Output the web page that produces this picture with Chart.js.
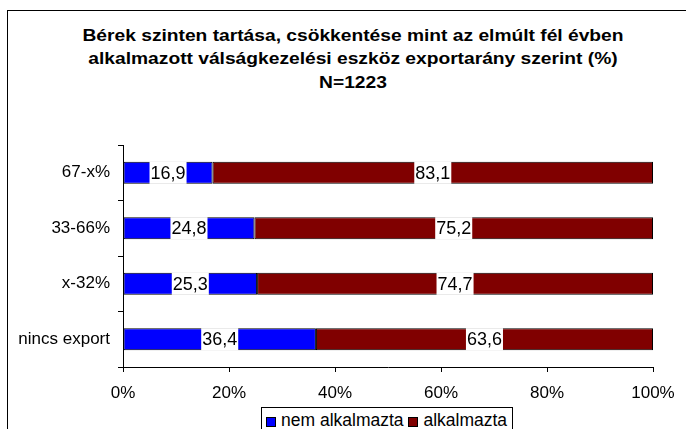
<!DOCTYPE html>
<html>
<head>
<meta charset="utf-8">
<script src="https://cdn.jsdelivr.net/npm/chart.js@4.4.0/dist/chart.umd.min.js"></script>
<style>
    html, body { margin: 0; padding: 0; background: #fff; overflow: hidden; }
    #wrap { position: relative; width: 686px; height: 429px; overflow: hidden; font-family: "Liberation Sans", Arial, sans-serif; color: #000; }
    #keret { position: absolute; left: 7px; top: 10px; width: 700px; height: 440px; border: 1px solid #000; box-sizing: border-box; }
    #grafikon { position: absolute; left: 0; top: 0; }
    #cim { position: absolute; left: 0; top: 23.5px; width: 706px; text-align: center; font-weight: bold; font-size: 16px;
        line-height: 23.5px; transform: scaleX(1.2); transform-origin: 353px 0; white-space: nowrap; }
    #jelmagyarazat { position: absolute; left: 261px; top: 407px; height: 30px; border: 1px solid #000; background: #fff;
        font-size: 17.5px; line-height: 20px; padding: 2px 5px 0 4px; white-space: nowrap; }
    #jelmagyarazat span.doboz { display: inline-block; width: 8px; height: 8px; border: 1px solid #000; vertical-align: -1px; margin-right: 5px; }
</style>
</head>
<body>
<div id="wrap">
    <div id="keret"></div>
    <div id="cim"></div>
    <canvas id="grafikon" width="686" height="429"></canvas>
    <div id="jelmagyarazat"></div>
</div>
<script>
// adatok
var kategoriak = ['67-x%', '33-66%', 'x-32%', 'nincs export'];
var nemAlkalmazta = [16.9, 24.8, 25.3, 36.4];
var alkalmazta = [83.1, 75.2, 74.7, 63.6];
var sorozatNevek = ['nem alkalmazta', 'alkalmazta'];
var szinek = ['#0000ff', '#800000'];
var cimSorok = ['Bérek szinten tartása, csökkentése mint az elmúlt fél évben',
    'alkalmazott válságkezelési eszköz exportarány szerint (%)',
    'N=1223'];

var betu = '"Liberation Sans", Arial, sans-serif';

// címkék fehér háttérrel a szakaszok közepén
var ertekCimkek = {
    id: 'ertekCimkek',
    afterDatasetsDraw: function (chart) {
        var ctx = chart.ctx;
        ctx.save();
        ctx.font = '18px ' + betu;
        ctx.textAlign = 'center';
        ctx.textBaseline = 'middle';
        chart.data.datasets.forEach(function (ds, i) {
            var meta = chart.getDatasetMeta(i);
            meta.data.forEach(function (bar, j) {
                var szoveg = ds.data[j].toFixed(1).replace('.', ',');
                var cx = (bar.x + bar.base) / 2;
                var w = ctx.measureText(szoveg).width + 2;
                ctx.fillStyle = '#ffffff';
                ctx.fillRect(cx - w / 2, bar.y - bar.height / 2, w, bar.height);
                ctx.fillStyle = '#000000';
                ctx.fillText(szoveg, cx, bar.y + 1);
            });
        });
        ctx.restore();
    }
};

document.getElementById('cim').innerHTML = cimSorok.join('<br>');

var ctx = document.getElementById('grafikon').getContext('2d');
new Chart(ctx, {
    type: 'bar',
    data: {
        labels: kategoriak,
        datasets: [{
            label: sorozatNevek[0],
            data: nemAlkalmazta,
            backgroundColor: szinek[0],
            borderColor: '#000000',
            borderWidth: 1,
            borderSkipped: false
        }, {
            label: sorozatNevek[1],
            data: alkalmazta,
            backgroundColor: szinek[1],
            borderColor: '#000000',
            borderWidth: 1,
            borderSkipped: false
        }]
    },
    options: {
        indexAxis: 'y',
        responsive: false,
        animation: false,
        layout: { padding: { left: 0, right: 33, top: 145, bottom: 0 } },
        datasets: { bar: { categoryPercentage: 1, barPercentage: 0.4 } },
        scales: {
            x: {
                stacked: true,
                min: 0,
                max: 100,
                border: { color: '#000000', width: 1 },
                grid: { drawOnChartArea: false, drawTicks: true, tickLength: 5, color: '#000000' },
                ticks: {
                    stepSize: 20,
                    padding: 11,
                    color: '#000000',
                    font: { family: betu, size: 17 },
                    callback: function (v) { return v + '%'; }
                },
                afterFit: function (scale) { scale.height = 62; }
            },
            y: {
                stacked: true,
                border: { color: '#000000', width: 1 },
                grid: { drawOnChartArea: false, drawTicks: true, tickLength: 5, color: '#000000', offset: true },
                ticks: {
                    padding: 8,
                    color: '#000000',
                    font: { family: betu, size: 17 }
                },
                afterFit: function (scale) { scale.width = 123; }
            }
        },
        plugins: {
            legend: { display: false },
            tooltip: { enabled: false },
            title: { display: false }
        }
    },
    plugins: [ertekCimkek]
});

// jelmagyarázat
var jm = document.getElementById('jelmagyarazat');
sorozatNevek.forEach(function (nev, i) {
    var doboz = document.createElement('span');
    doboz.className = 'doboz';
    doboz.style.background = szinek[i];
    jm.appendChild(doboz);
    jm.appendChild(document.createTextNode(nev + (i < sorozatNevek.length - 1 ? ' ' : '')));
});
</script>
</body>
</html>
